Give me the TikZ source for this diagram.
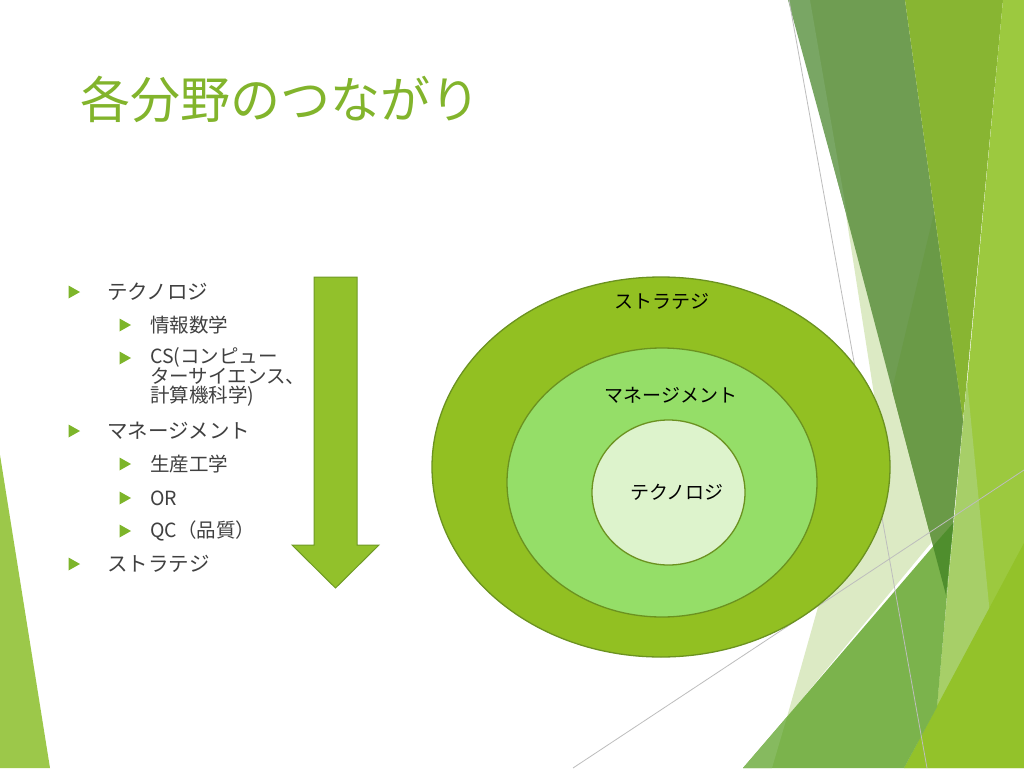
\documentclass[tikz,border=0pt]{standalone}
\usepackage{fontspec}
\setmainfont{Noto Sans CJK JP}
\definecolor{titlec}{HTML}{82B42C}
\definecolor{txt}{HTML}{404040}
\definecolor{bul}{HTML}{7DB52A}
\definecolor{arrowfill}{HTML}{92C12B}
\definecolor{arrowedge}{HTML}{6F9A25}
\definecolor{ringedge}{HTML}{6B9220}
\definecolor{outerfill}{HTML}{92C022}
\definecolor{midfill}{HTML}{95DE68}
\definecolor{innerfill}{HTML}{DDF3CC}
\definecolor{dkband}{HTML}{6F9D52}
\definecolor{dkband2}{HTML}{6A9A47}
\definecolor{sliver}{HTML}{79A664}
\definecolor{oliveband}{HTML}{88B532}
\definecolor{lightstrip}{HTML}{9CC93F}
\definecolor{wedge}{HTML}{A7CF68}
\definecolor{brtri}{HTML}{93C22A}
\definecolor{midgreen}{HTML}{7BB34C}
\definecolor{overlap}{HTML}{4F8E2D}
\definecolor{palec}{HTML}{DCEAC4}
\definecolor{msliver}{HTML}{86BA5F}
\definecolor{lefttri}{HTML}{9CC84A}
\definecolor{grayline}{HTML}{BDBDBD}
\begin{document}
\begin{tikzpicture}[x=1pt,y=-1pt,
  ring/.style={draw=ringedge, line width=1.3pt},
  lvlone/.style={anchor=west, inner sep=0pt, text=txt, font=\fontsize{20.5}{24}\selectfont},
  lvltwo/.style={anchor=west, inner sep=0pt, text=txt, font=\fontsize{19.5}{19}\selectfont},
  lbl/.style={inner sep=0pt, text=black, font=\fontsize{19}{22}\selectfont},
  bmark/.pic={\fill[bul] (-5.5,-6.5) -- (6,0) -- (-5.5,6.5) -- cycle;},
  gline/.style={draw=grayline, line width=0.8pt}
]
\useasboundingbox (0,0) rectangle (1024,768);
\fill[white] (0,0) rectangle (1024,768);

% ---- background facets ----
\fill[palec] (846,215) -- (930,215) -- (950,520) -- (787,717) -- (820,600) -- (878,420) -- cycle;
\fill[dkband] (790,0) -- (905,0) -- (963,420) -- (946,595) -- cycle;
\fill[dkband2] (934,213) -- (963,420) -- (946,595) -- (892,390) -- cycle;
\fill[sliver] (788,0) -- (810,0) -- (848,220) -- cycle;
\fill[oliveband] (905,0) -- (1003,0) -- (963,420) -- cycle;
\fill[lightstrip] (1003,0) -- (1024,0) -- (1024,768) -- (904,768) -- (937,707) -- cycle;
\fill[wedge] (967,380) -- (990,615) -- (937,707) -- cycle;
\fill[brtri] (904,768) -- (1024,543) -- (1024,768) -- cycle;
\fill[midgreen] (743,768) -- (953.5,522.6) -- (937,707) -- (904,768) -- cycle;
\fill[overlap] (933,546) -- (953.5,522.6) -- (946,595) -- cycle;
\fill[msliver] (743,768) -- (772,768) -- (787,717) -- cycle;
\fill[lefttri] (0,455) -- (50,768) -- (0,768) -- cycle;
\draw[gline] (789,0) -- (927,768);
\draw[gline] (573,768) -- (1024,470);

% ---- title ----
\node[anchor=west, inner sep=0pt, text=titlec, font=\fontsize{50}{60}\selectfont] (title) at (80,99) {各分野のつながり};

% ---- bullet list ----
\pic at (74,292) {bmark};
\node[lvlone] (b1) at (107,292) {テクノロジ};
\pic at (125,325) {bmark};
\node[lvltwo] (b1a) at (150,325) {情報数学};
\pic at (125,358) {bmark};
\node[lvltwo, align=left] (b1b) at (150,377) {CS(コンピュー\\ターサイエンス、\\計算機科学)};
\pic at (74,431) {bmark};
\node[lvlone] (b2) at (107,431) {マネージメント};
\pic at (125,464) {bmark};
\node[lvltwo] (b2a) at (150,464) {生産工学};
\pic at (125,498) {bmark};
\node[lvltwo] (b2b) at (150,498) {OR};
\pic at (125,531) {bmark};
\node[lvltwo] (b2c) at (150,531) {QC（品質）};
\pic at (74,564) {bmark};
\node[lvlone] (b3) at (107,564) {ストラテジ};

% ---- big arrow ----
\draw[fill=arrowfill, draw=arrowedge, line width=1pt, line join=miter]
  (314,277) -- (357,277) -- (357,545) -- (379,545) -- (335.5,588) -- (292,545) -- (314,545) -- cycle;

% ---- nested ellipses ----
\draw[ring, fill=outerfill] (661,467) ellipse [x radius=229pt, y radius=190pt];
\draw[ring, fill=midfill] (662,482.5) ellipse [x radius=155pt, y radius=134.5pt];
\draw[ring, fill=innerfill] (668.5,492.5) ellipse [x radius=76.5pt, y radius=72.5pt];
\node[lbl] (strat) at (662,301) {ストラテジ};
\node[lbl] (mgmt) at (671,395) {マネージメント};
\node[lbl] (tech) at (677,492) {テクノロジ};
\end{tikzpicture}
\end{document}
